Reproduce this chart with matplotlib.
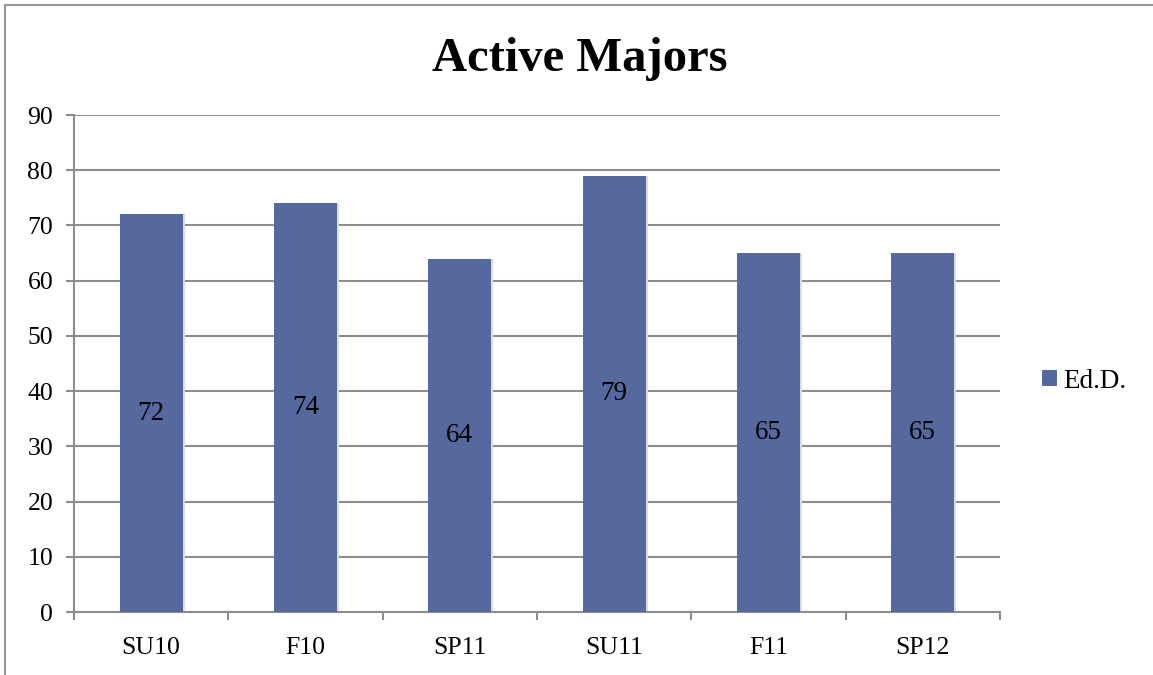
import matplotlib
matplotlib.use('Agg')
import matplotlib.pyplot as plt
from matplotlib.lines import Line2D
import numpy as np

terms = ['SU10', 'F10', 'SP11', 'SU11', 'F11', 'SP12']
majors = [72, 74, 64, 79, 65, 65]
series_name = 'Ed.D.'
y_ticks = [0, 10, 20, 30, 40, 50, 60, 70, 80, 90]

plt.rcParams['font.family'] = ['Liberation Serif', 'DejaVu Serif']

fig = plt.figure(figsize=(11.53, 6.75), dpi=100)
ax = fig.add_axes([0.0642, 0.0933, 0.8031, 0.7363])

bar_col = '#56699e'
grid_col = '#8c8c8c'

x = np.arange(len(terms))
# soft shadow to the right of the bars
ax.bar(x + 0.012, majors, width=0.41, color='#dcdcdc', zorder=2)
bars = ax.bar(x, majors, width=0.41, color=bar_col, zorder=3, label=series_name)

# value labels in the middle of each bar
for xi, v in zip(x, majors):
    ax.text(xi, v / 2, str(v), ha='center', va='center', fontsize=19.5, zorder=4)

ax.set_xlim(-0.5, len(terms) - 0.5)
ax.set_ylim(0, 90)
ax.set_yticks(y_ticks)
ax.set_xticks(x)
ax.set_xticklabels(terms)
ax.set_xticks(np.arange(-0.5, len(terms)), minor=True)

ax.grid(axis='y', color=grid_col, linewidth=1.5, zorder=1)
ax.set_axisbelow(True)

for s in ['top', 'right']:
    ax.spines[s].set_visible(False)
for s in ['left', 'bottom']:
    ax.spines[s].set_color(grid_col)
    ax.spines[s].set_linewidth(1.5)

ax.tick_params(axis='y', which='major', length=6, width=1.5, color=grid_col, labelsize=18.5, pad=9)
ax.tick_params(axis='x', which='major', length=0, labelsize=18.5, pad=18)
ax.tick_params(axis='x', which='minor', length=6, width=1.5, color=grid_col, direction='out')

fig.text(0.503, 1 - 71 / 675, 'Active Majors', ha='center', va='baseline',
         fontsize=35, fontweight='bold')

leg = ax.legend(loc='center left', bbox_to_anchor=(1042 / 1153, 1 - 381 / 675),
                bbox_transform=fig.transFigure, frameon=False, fontsize=19.5,
                handlelength=0.55, handleheight=0.55, handletextpad=0.22,
                borderpad=0, borderaxespad=0)

# outer chart border (only left and top visible)
fig.add_artist(Line2D([0.0043, 0.0043], [0, 1 - 5 / 675], color='#999999', linewidth=1.5, transform=fig.transFigure))
fig.add_artist(Line2D([0.0043, 1], [1 - 5 / 675, 1 - 5 / 675], color='#999999', linewidth=1.5, transform=fig.transFigure))

plt.savefig('out.png', dpi=100)
